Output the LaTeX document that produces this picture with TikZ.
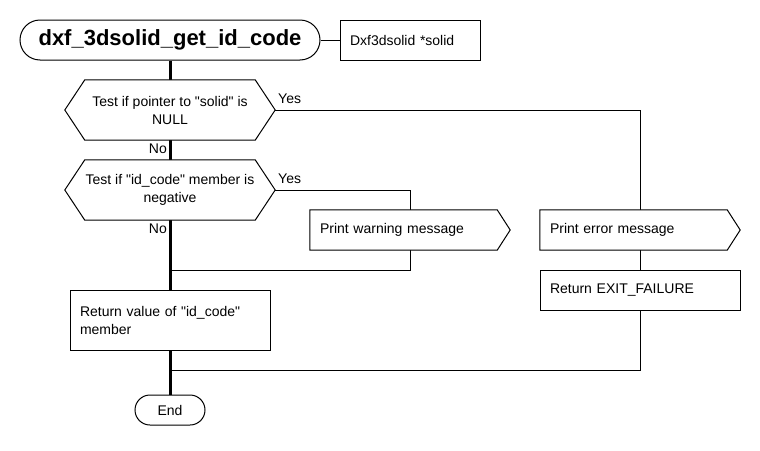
\documentclass[tikz,border=0pt]{standalone}
\usepackage{fontspec}
\setmainfont{Liberation Sans}[Ligatures=TeXOff]
\usetikzlibrary{shapes.misc,calc,backgrounds}
\begin{document}
\begin{tikzpicture}[x=1pt,y=-1pt,
  every node/.style={font=\fontsize{14}{18}\selectfont, inner sep=0pt},
  outline/.style={draw=black, line width=1pt, fill=white},
  thinline/.style={draw=black, line width=1pt},
  thickline/.style={draw=black, line width=3pt},
  stadium/.style={rounded rectangle, outline},
  leftbox/.style={rectangle, align=left, inner xsep=10pt, minimum height=40pt},
  hexnode/.style={rectangle, align=center, minimum width=210pt, minimum height=60pt},
  lbl/.style={font=\fontsize{14}{16}\selectfont}
]
\useasboundingbox (0,0) rectangle (760,450);

% nodes
\node[stadium, minimum width=300pt, minimum height=40pt, font=\fontsize{22}{26}\selectfont\bfseries] (title) at (170,40) {dxf\_3dsolid\_get\_id\_code};
\node[leftbox, outline, text width=120pt] (param) at (410,40) {Dxf3dsolid *solid};

\node[hexnode] (t1) at (170,110) {Test if pointer to "solid" is\\NULL};
\node[hexnode] (t2) at (170,190) {Test if "id\_code" member is\\negative};

\node[leftbox, text width=180pt] (warn) at (410,230) {Print warning message};
\node[leftbox, text width=180pt] (err) at (640,230) {Print error message};
\node[leftbox, outline, text width=180pt] (fail) at (640,290) {Return EXIT\_FAILURE};
\node[leftbox, outline, text width=180pt, minimum height=60pt] (ret) at (170,320) {Return value of "id\_code"\\member};
\node[stadium, minimum width=70pt, minimum height=30pt] (end) at (170,410) {End};

% shape outlines
\foreach \n in {t1,t2}{
  \draw[outline] (\n.west) -- ($(\n.north west)+(20,0)$) -- ($(\n.north east)+(-20,0)$)
    -- (\n.east) -- ($(\n.south east)+(-20,0)$) -- ($(\n.south west)+(20,0)$) -- cycle;
}
\foreach \n in {warn,err}{
  \draw[outline] (\n.north west) -- ($(\n.north east)+(-13,0)$) -- (\n.east)
    -- ($(\n.south east)+(-13,0)$) -- (\n.south west) -- cycle;
}
% redraw texts above outlines
\node[hexnode] at (t1) {Test if pointer to "solid" is\\NULL};
\node[hexnode] at (t2) {Test if "id\_code" member is\\negative};
\node[leftbox, text width=180pt] at (warn) {Print warning message};
\node[leftbox, text width=180pt] at (err) {Print error message};

\coordinate (j1) at (170,270);
\coordinate (j2) at (170,370);

% labels
\node[lbl, anchor=west] (y1) at (278,99) {Yes};
\node[lbl, anchor=west] (y2) at (278,179) {Yes};
\node[lbl, anchor=east] (n1) at (167,149) {No};
\node[lbl, anchor=east] (n2) at (167,229) {No};

% connectors
\begin{scope}[on background layer]
  \draw[thinline] (title.east) -- (param.west);
  \draw[thickline] (title.south) -- (t1.north);
  \draw[thickline] (t1.south) -- (t2.north);
  \draw[thickline] (t2.south) -- (ret.north);
  \draw[thickline] (ret.south) -- (end.north);
  \draw[thinline] (t1.east) -| (err.north);
  \draw[thinline] (err.south) -- (fail.north);
  \draw[thinline] (fail.south) |- (j2);
  \draw[thinline] (t2.east) -| (warn.north);
  \draw[thinline] (warn.south) |- (j1);
\end{scope}
\end{tikzpicture}
\end{document}
